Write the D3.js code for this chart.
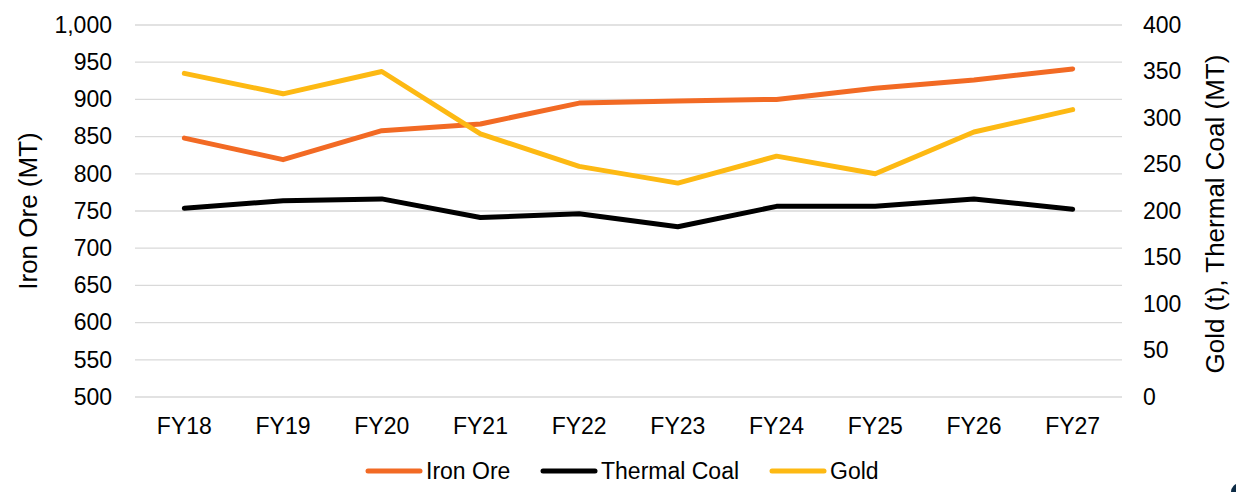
<!DOCTYPE html>
<html>
<head>
<meta charset="utf-8">
<script src="https://cdn.jsdelivr.net/npm/d3@7"></script>
<style>
  html, body { margin: 0; padding: 0; background: #fff; }
  svg { display: block; font-family: "Liberation Sans", Arial, Helvetica, sans-serif; }
</style>
</head>
<body>
<svg id="chart" width="1236" height="492"></svg>
<script>
const categories = ["FY18","FY19","FY20","FY21","FY22","FY23","FY24","FY25","FY26","FY27"];
const ironOre    = [848, 819, 858, 867, 895, 898, 900, 915, 926, 941];
const thermalCoal= [203, 211, 213, 193, 197, 183, 205, 205, 213, 202];
const gold       = [348, 326, 350, 283, 248, 230, 259, 240, 285, 309];
const leftTicks  = [500, 550, 600, 650, 700, 750, 800, 850, 900, 950, 1000];
const rightTicks = [0, 50, 100, 150, 200, 250, 300, 350, 400];
const seriesNames = ["Iron Ore", "Thermal Coal", "Gold"];

const svg = d3.select("#chart");
const plot = { left: 135, right: 1122, top: 25, bottom: 397 };
const tickFont = 23;
const titleFont = 26;
const FF = "Liberation Sans, Arial, sans-serif";

const x = d3.scaleBand().domain(categories).range([plot.left, plot.right]);
const yL = d3.scaleLinear().domain([500, 1000]).range([plot.bottom, plot.top]);
const yR = d3.scaleLinear().domain([0, 400]).range([plot.bottom, plot.top]);

// gridlines
svg.append("g")
  .selectAll("line").data(leftTicks).join("line")
  .attr("x1", plot.left).attr("x2", plot.right)
  .attr("y1", d => yL(d)).attr("y2", d => yL(d))
  .attr("stroke", "#d9d9d9").attr("stroke-width", 1.3);

// left axis
const fmt = d3.format(",");
const gL = svg.append("g").attr("transform", `translate(${plot.left},0)`)
  .call(d3.axisLeft(yL).tickValues(leftTicks).tickFormat(fmt).tickSize(0).tickPadding(23));
gL.select(".domain").remove();
gL.selectAll("text").attr("font-size", tickFont).attr("font-family", FF).attr("fill", "#000");

// right axis
const gR = svg.append("g").attr("transform", `translate(${plot.right},0)`)
  .call(d3.axisRight(yR).tickValues(rightTicks).tickSize(0).tickPadding(21));
gR.select(".domain").remove();
gR.selectAll("text").attr("font-size", tickFont).attr("font-family", FF).attr("fill", "#000");

// bottom axis
const gB = svg.append("g").attr("transform", `translate(0,${plot.bottom})`)
  .call(d3.axisBottom(x).tickSize(0).tickPadding(21));
gB.select(".domain").remove();
gB.selectAll("text").attr("font-size", tickFont).attr("font-family", FF).attr("fill", "#000");

// axis titles
const midY = (plot.top + plot.bottom) / 2;
svg.append("text")
  .attr("transform", `translate(37,${midY}) rotate(-90)`)
  .attr("text-anchor", "middle").attr("font-size", titleFont).attr("fill", "#000")
  .text("Iron Ore (MT)");
svg.append("text")
  .attr("transform", `translate(1224,${midY + 3}) rotate(-90)`)
  .attr("text-anchor", "middle").attr("font-size", titleFont).attr("fill", "#000")
  .text("Gold (t), Thermal Coal (MT)");

// lines
const colors = { "Iron Ore": "#F26A24", "Thermal Coal": "#000000", "Gold": "#FDB913" };
const cx = c => x(c) + x.bandwidth() / 2;
const mk = (data, scale) => d3.line().x((d, i) => cx(categories[i])).y(d => scale(d))(data);

const seriesDefs = [
  { name: "Iron Ore", data: ironOre, scale: yL },
  { name: "Thermal Coal", data: thermalCoal, scale: yR },
  { name: "Gold", data: gold, scale: yR }
];
svg.append("g").selectAll("path").data(seriesDefs).join("path")
  .attr("d", s => mk(s.data, s.scale))
  .attr("fill", "none")
  .attr("stroke", s => colors[s.name])
  .attr("stroke-width", 5)
  .attr("stroke-linecap", "round")
  .attr("stroke-linejoin", "round");

// legend
const legendX = [368, 543, 772];
const legY = 471;
const lg = svg.append("g");
seriesNames.forEach((n, i) => {
  lg.append("line")
    .attr("x1", legendX[i]).attr("x2", legendX[i] + 52)
    .attr("y1", legY).attr("y2", legY)
    .attr("stroke", colors[n]).attr("stroke-width", 5).attr("stroke-linecap", "round");
  lg.append("text")
    .attr("x", legendX[i] + 58).attr("y", legY).attr("dy", "0.36em")
    .attr("font-size", tickFont).attr("fill", "#000")
    .text(n);
});

// corner decoration
svg.append("circle").attr("cx", 1240).attr("cy", 492).attr("r", 9).attr("fill", "#0c2a45");
</script>
</body>
</html>
